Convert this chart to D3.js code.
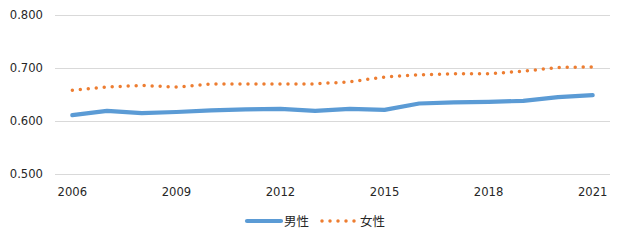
<!DOCTYPE html>
<html>
<head>
<meta charset="utf-8">
<script src="https://cdn.jsdelivr.net/npm/d3@7"></script>
<style>
  body { margin: 0; background: #fff; }
  svg { display: block; }
</style>
</head>
<body>
<svg id="chart"></svg>
<script>
const years = ["2006","2007","2008","2009","2010","2011","2012","2013","2014","2015","2016","2017","2018","2019","2020","2021"];
const male = [0.611,0.619,0.615,0.617,0.620,0.622,0.623,0.619,0.623,0.621,0.633,0.635,0.636,0.638,0.645,0.649];
const female = [0.658,0.664,0.667,0.664,0.670,0.670,0.670,0.670,0.674,0.683,0.687,0.689,0.689,0.694,0.701,0.702];
const yTicks = [0.5,0.6,0.7,0.8];
const xTickYears = ["2006","2009","2012","2015","2018","2021"];
const seriesNames = ["男性","女性"];

const W = 624, H = 241;
const margin = {top: 15, right: 14, bottom: 67, left: 55};

const svg = d3.select("#chart")
	.attr("width", W)
	.attr("height", H)
	.style("font-family", "'DejaVu Sans', sans-serif");

const x = d3.scalePoint()
	.domain(years)
	.range([margin.left, W - margin.right])
	.padding(0.5);

const y = d3.scaleLinear()
	.domain([0.5, 0.8])
	.range([H - margin.bottom, margin.top]);

// gridlines
svg.append("g")
	.selectAll("line")
	.data(yTicks)
	.join("line")
	.attr("x1", margin.left)
	.attr("x2", W - margin.right)
	.attr("y1", d => Math.round(y(d)) + 0.5)
	.attr("y2", d => Math.round(y(d)) + 0.5)
	.attr("stroke", "#d9d9d9")
	.attr("stroke-width", 1);

// y labels
svg.append("g")
	.selectAll("text")
	.data(yTicks)
	.join("text")
	.attr("x", 43)
	.attr("y", d => y(d))
	.attr("dy", "0.35em")
	.attr("text-anchor", "end")
	.attr("font-size", 11.6)
	.attr("fill", "#262626")
	.text(d3.format(".3f"));

// x labels
svg.append("g")
	.selectAll("text")
	.data(xTickYears)
	.join("text")
	.attr("x", d => x(d))
	.attr("y", 192)
	.attr("dy", "0.35em")
	.attr("text-anchor", "middle")
	.attr("font-size", 11.6)
	.attr("fill", "#262626")
	.text(d => d);

const line = d3.line()
	.x((d, i) => x(years[i]))
	.y(d => y(d));

svg.append("path")
	.datum(male)
	.attr("d", line)
	.attr("fill", "none")
	.attr("stroke", "#5b9bd5")
	.attr("stroke-width", 4.2)
	.attr("stroke-linejoin", "round")
	.attr("stroke-linecap", "round");

svg.append("path")
	.datum(female)
	.attr("d", line)
	.attr("fill", "none")
	.attr("stroke", "#ed7d31")
	.attr("stroke-width", 3.5)
	.attr("stroke-linecap", "round")
	.attr("stroke-dasharray", "0 8");

// legend
const legend = svg.append("g").attr("transform", "translate(0,221)");
legend.append("line")
	.attr("x1", 247).attr("x2", 281)
	.attr("stroke", "#5b9bd5").attr("stroke-width", 4.2)
	.attr("stroke-linecap", "round");
legend.append("text")
	.attr("x", 284).attr("dy", "0.36em")
	.attr("font-size", 12.5)
	.attr("font-family", "'Noto Sans CJK JP', sans-serif")
	.attr("fill", "#262626")
	.text(seriesNames[0]);
legend.append("line")
	.attr("x1", 322).attr("x2", 358)
	.attr("stroke", "#ed7d31").attr("stroke-width", 3.5)
	.attr("stroke-linecap", "round")
	.attr("stroke-dasharray", "0 8");
legend.append("text")
	.attr("x", 360).attr("dy", "0.36em")
	.attr("font-size", 12.5)
	.attr("font-family", "'Noto Sans CJK JP', sans-serif")
	.attr("fill", "#262626")
	.text(seriesNames[1]);
</script>
</body>
</html>
